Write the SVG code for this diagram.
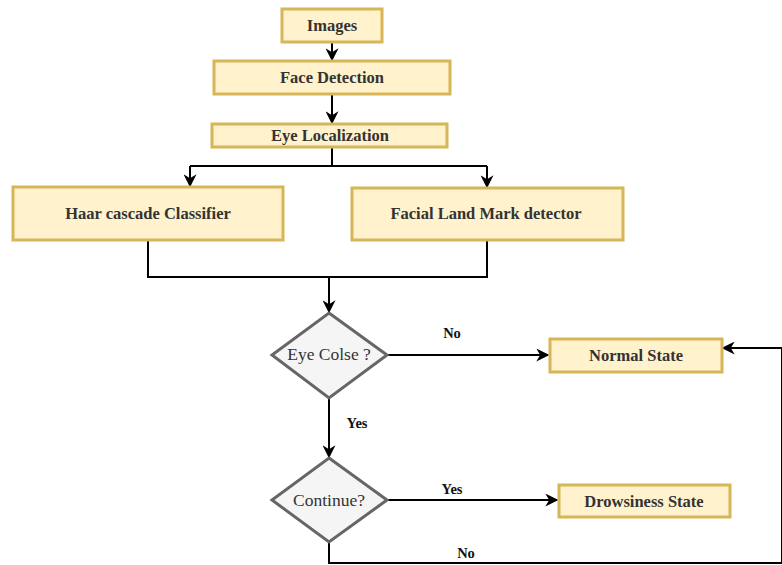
<svg xmlns="http://www.w3.org/2000/svg" width="782" height="565" viewBox="0 0 782 565">
<defs>
<marker id="arrL" viewBox="0 0 10 10" refX="9" refY="5" markerWidth="13" markerHeight="13" markerUnits="userSpaceOnUse" orient="auto">
<path d="M0,0 L10,5 L0,10 L3,5 Z" fill="#000"/>
</marker>
</defs>
<style>
.box{fill:#fff2cc;stroke:#d6b656;stroke-width:3}
.dia{fill:#f5f5f5;stroke:#666;stroke-width:3}
text{font-family:'Liberation Serif','Times New Roman','DejaVu Serif',serif;text-anchor:middle;dominant-baseline:central}
.t{font-weight:bold;font-size:16.5px;fill:#333}
.d{font-size:17.5px;fill:#333}
.l{font-weight:bold;font-size:14.5px;fill:#111}
.c{fill:none;stroke:#000;stroke-width:2}
</style>
<rect width="782" height="565" fill="#fff"/>
<g id="connectors">
<path class="c" d="M332,42 V60" marker-end="url(#arrL)"/>
<path class="c" d="M332,94 V123" stroke="#777" marker-end="url(#arrL)"/>
<path class="c" d="M332,147 V166 M190,166 H487"/>
<path class="c" d="M190,166 V186" marker-end="url(#arrL)"/>
<path class="c" d="M487,166 V187" marker-end="url(#arrL)"/>
<path class="c" d="M148,240 V277 H487 V240"/>
<path class="c" d="M329,277 V312" marker-end="url(#arrL)"/>
<path class="c" d="M387,355 H548" marker-end="url(#arrL)"/>
<path class="c" d="M329,398 V457" marker-end="url(#arrL)"/>
<path class="c" d="M387,500 H557" marker-end="url(#arrL)"/>
<path class="c" d="M329,542 V563 H782 V348 H723" marker-end="url(#arrL)"/>
<text class="l" x="452" y="333">No</text>
<text class="l" x="357" y="423">Yes</text>
<text class="l" x="452" y="489">Yes</text>
<text class="l" x="466" y="553">No</text>
</g>
<g id="images"><rect class="box" x="282" y="9" width="100" height="33"/><text class="t" x="332" y="25">Images</text></g>
<g id="face-detection"><rect class="box" x="214" y="61" width="236" height="33"/><text class="t" x="332" y="77">Face Detection</text></g>
<g id="eye-localization"><rect class="box" x="212" y="124" width="235" height="23"/><text class="t" x="330" y="135">Eye Localization</text></g>
<g id="haar"><rect class="box" x="13" y="187" width="270" height="53"/><text class="t" x="148" y="213">Haar cascade Classifier</text></g>
<g id="facial"><rect class="box" x="352" y="188" width="271" height="52"/><text class="t" x="486" y="213">Facial Land Mark detector</text></g>
<g id="eye-close"><polygon class="dia" points="329,313 387,355 329,398 272,355"/><text class="d" x="329" y="354">Eye Colse ?</text></g>
<g id="normal-state"><rect class="box" x="550" y="339" width="172" height="33"/><text class="t" x="636" y="355">Normal State</text></g>
<g id="continue"><polygon class="dia" points="329,458 387,500 329,542 272,500"/><text class="d" x="329" y="500">Continue?</text></g>
<g id="drowsiness-state"><rect class="box" x="559" y="485" width="171" height="32"/><text class="t" x="644" y="501">Drowsiness State</text></g>
</svg>
